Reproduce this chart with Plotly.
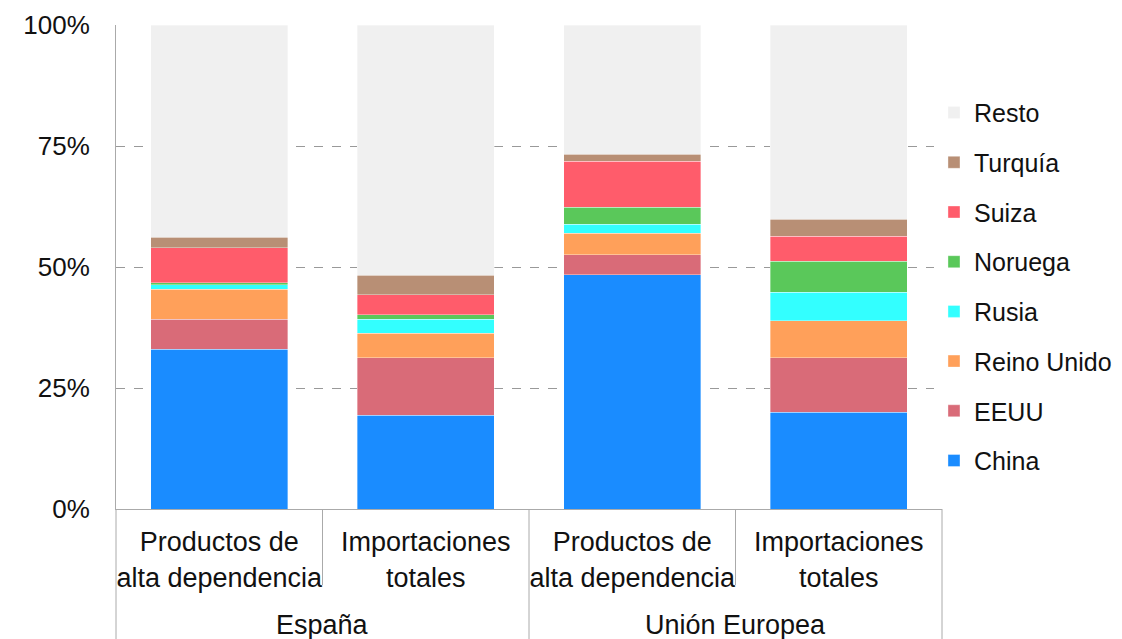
import plotly.graph_objects as go

# categories (outer group, inner label)
regiones = ["España", "España", "Unión Europea", "Unión Europea"]
tipos = ["Productos de<br>alta dependencia", "Importaciones<br>totales",
         "Productos de<br>alta dependencia", "Importaciones<br>totales"]

# shares in % per origin
china = [33.0, 19.4, 48.4, 20.0]
eeuu = [6.2, 11.9, 4.1, 11.3]
reino_unido = [6.2, 5.0, 4.5, 7.6]
rusia = [0.9, 2.9, 1.8, 5.9]
noruega = [0.4, 0.9, 3.5, 6.4]
suiza = [7.3, 4.2, 9.5, 5.2]
turquia = [2.1, 4.0, 1.5, 3.5]
resto = [100 - sum(v) for v in zip(china, eeuu, reino_unido, rusia, noruega, suiza, turquia)]

series = [
    ("China", china, "#1a8cff"),
    ("EEUU", eeuu, "#d96b78"),
    ("Reino Unido", reino_unido, "#ffa05a"),
    ("Rusia", rusia, "#33ffff"),
    ("Noruega", noruega, "#5ac85a"),
    ("Suiza", suiza, "#ff5c6b"),
    ("Turquía", turquia, "#b88f75"),
    ("Resto", resto, "#f0f0f0"),
]

y_ticks = [0, 25, 50, 75, 100]
y_labels = [f"{v}%" for v in y_ticks]

keys = [f"{r}|{i}" for i, r in enumerate(regiones)]
n = len(keys)

fig = go.Figure()
for k, (name, vals, col) in enumerate(series):
    fig.add_trace(go.Bar(x=keys, y=vals, name=name, legendgroup=name,
                         legendrank=len(series) - k,
                         marker=dict(color=col, line=dict(width=0.6, color="rgba(255,255,255,0.6)"))))

# divider lines under the axis
shapes = []
for i in range(n + 1):
    is_group_edge = i == 0 or i == n or regiones[i] != regiones[i - 1]
    shapes.append(dict(type="line", xref="paper", yref="paper", x0=i / n, x1=i / n,
                       y0=0, y1=-0.32 if is_group_edge else -0.157,
                       line=dict(color="#aaa", width=1)))

# group labels
annotations = []
for reg in dict.fromkeys(regiones):
    idx = [i for i, r in enumerate(regiones) if r == reg]
    annotations.append(dict(x=sum(idx) / len(idx), xref="x", y=-0.24, yref="paper",
                            text=reg, showarrow=False, yanchor="middle",
                            font=dict(size=27)))

fig.update_layout(
    barmode="stack",
    bargap=0.335,
    width=1122, height=639,
    margin=dict(l=108, r=188, t=17, b=138, autoexpand=False),
    plot_bgcolor="white", paper_bgcolor="white",
    font=dict(family="Liberation Sans, Arial, sans-serif", size=26, color="#111"),
    legend=dict(traceorder="grouped", tracegroupgap=14.2, x=0.9903, xanchor="left",
                y=0.459, yanchor="middle", font=dict(size=25), borderwidth=0),
    shapes=shapes,
    annotations=annotations,
)
fig.update_yaxes(range=[0, 100], tickmode="array", tickvals=y_ticks, ticktext=y_labels,
                 showgrid=True, gridcolor="#999", griddash="dash", gridwidth=1,
                 showline=True, linecolor="#aaa", zeroline=False, ticks="",
                 ticklabelstandoff=20, automargin=False)
fig.update_xaxes(type="category", tickmode="array", tickvals=keys, ticktext=tipos,
                 tickfont=dict(size=27),
                 showline=True, linecolor="#aaa", ticks="", ticklabelstandoff=9,
                 automargin=False)

fig.write_html("out.html")
